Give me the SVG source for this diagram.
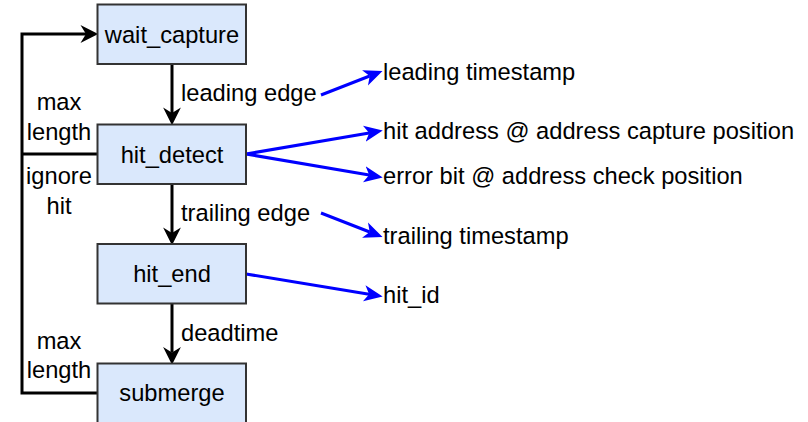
<svg xmlns="http://www.w3.org/2000/svg" width="808" height="422" viewBox="0 0 808 422">
  <style>
    text { font-family: "Liberation Sans", Arial, Helvetica, sans-serif; font-size: 23.7px; fill: #000; }
    .box { fill: #dae8fc; stroke: #333; stroke-width: 2; }
    .mid { text-anchor: middle; }
    .flow { fill: none; stroke: #000; stroke-width: 3; }
    .out { fill: none; stroke: #0000ff; stroke-width: 3; }
  </style>
  <defs>
    <marker id="blackHead" markerUnits="userSpaceOnUse" markerWidth="20" markerHeight="20" viewBox="0 -9 17 18" refX="5" refY="0" orient="auto">
      <path d="M0,-8 L16,0 L0,8 L5,0 Z" fill="#000"/>
    </marker>
    <marker id="blueHead" markerUnits="userSpaceOnUse" markerWidth="20" markerHeight="20" viewBox="0 -7 16 14" refX="4" refY="0" orient="auto">
      <path d="M0,-6.5 L15,0 L0,6.5 L4,0 Z" fill="#0000ff"/>
    </marker>
  </defs>

  <g id="connectors">
    <!-- state transitions -->
    <path class="flow" d="M172,64 V113" marker-end="url(#blackHead)"/>
    <path class="flow" d="M172,184 V233" marker-end="url(#blackHead)"/>
    <path class="flow" d="M172,304 V352.5" marker-end="url(#blackHead)"/>
    <!-- return loop back to wait_capture -->
    <path class="flow" d="M97,393 H22 V34 H86" marker-end="url(#blackHead)"/>
    <path class="flow" d="M97,154 H22"/>
    <!-- outputs -->
    <path class="out" d="M321,95 L369.7,76" marker-end="url(#blueHead)"/>
    <path class="out" d="M246,154 L369.2,132.9" marker-end="url(#blueHead)"/>
    <path class="out" d="M246,154 L369.2,175.1" marker-end="url(#blueHead)"/>
    <path class="out" d="M321,213 L369.7,232" marker-end="url(#blueHead)"/>
    <path class="out" d="M246,274 L369.1,294.2" marker-end="url(#blueHead)"/>
  </g>

  <g id="wait_capture">
    <rect class="box" x="97.5" y="4.5" width="148.5" height="59.5"/>
    <text class="mid" x="172" y="42.5">wait_capture</text>
  </g>
  <g id="hit_detect">
    <rect class="box" x="97.5" y="124.5" width="148.5" height="59.5"/>
    <text class="mid" x="172" y="162.5">hit_detect</text>
  </g>
  <g id="hit_end">
    <rect class="box" x="97.5" y="244" width="148.5" height="59.5"/>
    <text class="mid" x="172" y="282">hit_end</text>
  </g>
  <g id="submerge">
    <rect class="box" x="97.5" y="363.5" width="148.5" height="60"/>
    <text class="mid" x="172" y="401">submerge</text>
  </g>

  <g id="edge-labels">
    <text x="181" y="101">leading edge</text>
    <text x="181" y="221">trailing edge</text>
    <text x="181" y="341">deadtime</text>
    <text class="mid" x="59" y="110">max</text>
    <text class="mid" x="59" y="139.5">length</text>
    <text class="mid" x="59" y="184">ignore</text>
    <text class="mid" x="59" y="214">hit</text>
    <text class="mid" x="59" y="348.5">max</text>
    <text class="mid" x="59" y="378">length</text>
  </g>

  <g id="outputs">
    <text x="383" y="79.5">leading timestamp</text>
    <text x="383" y="138.5">hit address @ address capture position</text>
    <text x="383" y="183.5">error bit @ address check position</text>
    <text x="383" y="243.5">trailing timestamp</text>
    <text x="383" y="303">hit_id</text>
  </g>
</svg>
